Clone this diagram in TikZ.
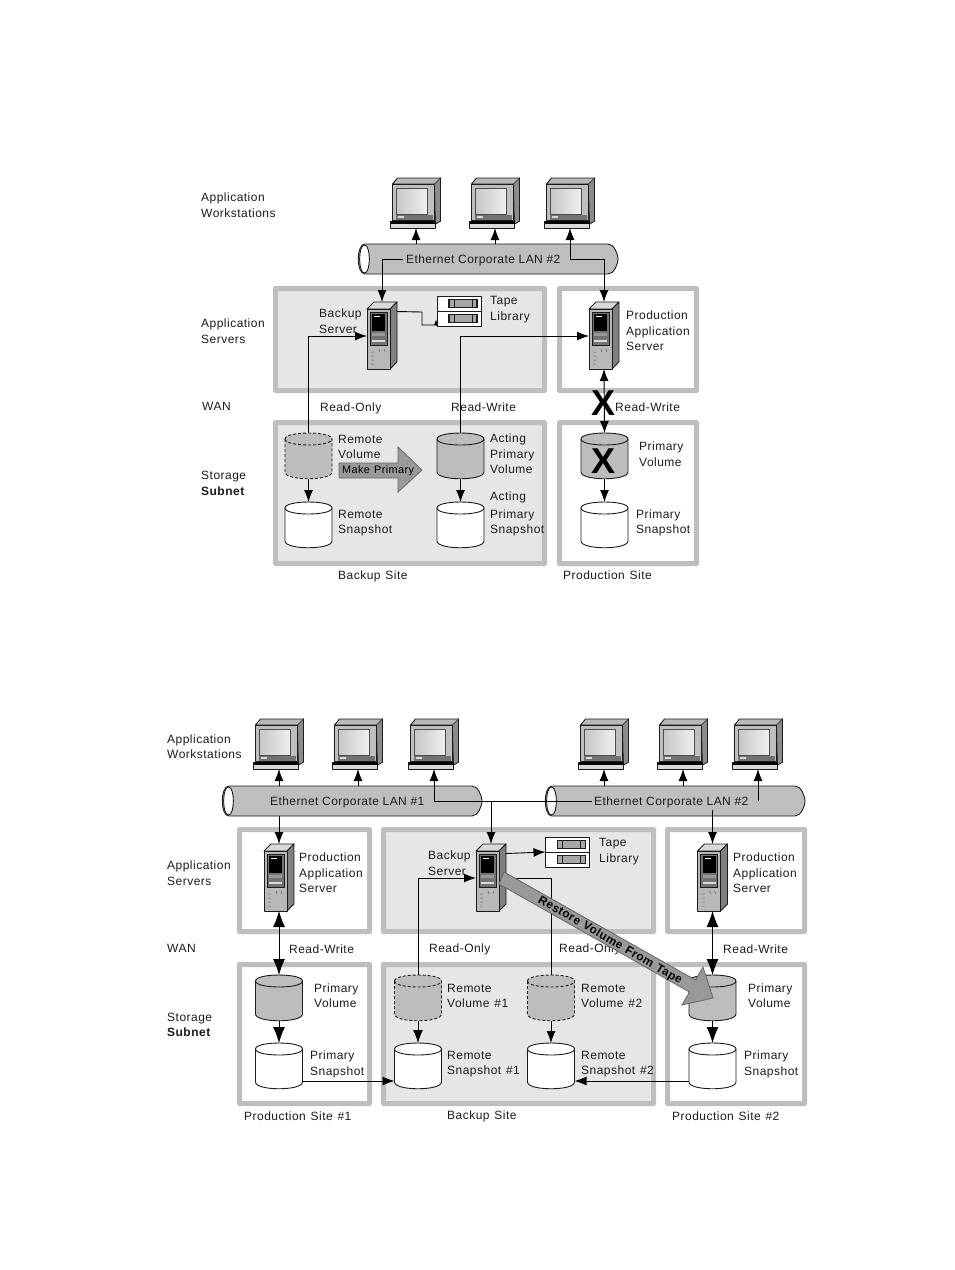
\documentclass[tikz,border=0pt]{standalone}
\usepackage{fontspec}
\setmainfont[LetterSpace=4,WordSpace=1.25]{Liberation Sans}
\newfontfamily\lanfont[LetterSpace=3.5]{Liberation Sans}
\usetikzlibrary{arrows.meta,calc}
\definecolor{ink}{HTML}{1C1C1C}
\definecolor{band}{HTML}{BEBEBE}
\definecolor{sitegray}{HTML}{E6E6E6}
\definecolor{volgray}{HTML}{BDBDBD}
\definecolor{bigarrow}{HTML}{999999}
\tikzset{
  x=1pt,y=-1pt,
  lab/.style={anchor=west,inner sep=0pt,align=left,text=ink,yshift=-0.7pt,font=\fontsize{12}{15.5}\selectfont},
  lanlab/.style={lab,font=\lanfont\fontsize{12}{15.5}\selectfont},
  site/.style={draw=band,line width=5pt,fill=sitegray,rounded corners=0.5pt},
  prod/.style={draw=band,line width=5pt,fill=white,rounded corners=0.5pt},
  conn/.style={draw=black,line width=0.9pt},
  tipa/.style={conn,-{Latex[length=12pt,width=9pt]}},
  tipm/.style={conn,-{Latex[length=13pt,width=10pt]}},
  tipb/.style={conn,-{Latex[length=16pt,width=12pt]}},
  tipbb/.style={conn,{Latex[length=16pt,width=12pt]}-{Latex[length=16pt,width=12pt]}},
  tipab/.style={conn,{Latex[length=12pt,width=9pt]}-{Latex[length=12pt,width=9pt]}},
  crossx/.style={inner sep=0pt,text=black,font=\fontsize{36}{36}\bfseries\selectfont},
  shape line/.style={draw=ink,line width=0.9pt,line join=round},
  bigar/.style={draw=black!60,line width=0.8pt,fill=bigarrow,line join=miter},
  pics/cyl/.style 2 args={code={
    \path[shape line,fill=#1,#2] (0,6) .. controls (0,-2) and (47,-2) .. (47,6) -- (47,39)
       .. controls (47,48) and (0,48) .. (0,39) -- cycle;
    \path[shape line,#2] (0,6) .. controls (0,14) and (47,14) .. (47,6);
    \coordinate (-t) at (23.5,0); \coordinate (-b) at (23.5,46);
    \coordinate (-ls) at (0,38); \coordinate (-rs) at (47,38);
  }},
  pics/monitor/.style={code={
    \path[shape line,fill=black!28] (2,7) -- (7,1) -- (50,1) -- (50,44) -- (45,47) -- (44,7) -- cycle;
    \path[draw=ink,line width=0.6pt,fill=black!45] (44,7) -- (50,1) -- (50,44) -- (45,47) -- cycle;
    \path[shape line,fill=black!25] (2,7) rectangle (44,43);
    \shade[left color=black!22,right color=black!6,draw=black!70,line width=0.8pt] (6,11) rectangle (37,37);
    \path[fill=black!55] (5,38) rectangle (42,43);
    \path[fill=black!15] (7,39) rectangle (13,41);
    \path[shape line,fill=black!15] (0,44) rectangle (45,51);
    \path[fill=black] (0,44) rectangle (45,46.5);
    \coordinate (-b) at (25.5,51);
  }},
  pics/server/.style={code={
    \path[shape line,fill=black!15] (0,7) -- (7,0) -- (30,0) -- (23,7) -- cycle;
    \path[shape line,fill=black!50] (23,7) -- (30,0) -- (30,60) -- (23,67) -- cycle;
    \path[shape line,fill=black!28] (0,7) rectangle (23,67);
    \path[draw=ink,line width=0.7pt,fill=black!55] (3,10) rectangle (20,43);
    \path[fill=black] (5,12) rectangle (18,29);
    \path[fill=white] (7,14) rectangle (13,15);
    \path[fill=black!40] (5,31) rectangle (18,34);
    \path[fill=black!15] (5,38) rectangle (18,40);
    \path[draw=black!60,line width=0.5pt] (4,50) -- (7,50) (4,54) -- (7,54) (4,58) -- (7,58) (4,62) -- (7,62)
      (12,47) -- (13,50) (17,47) -- (18,50);
    \coordinate (-t) at (15,0); \coordinate (-b) at (15,67);
    \coordinate (-l) at (0,34); \coordinate (-r) at (30,34); \coordinate (-ru) at (30,9.5);
  }},
  pics/tape/.style={code={
    \path[shape line,fill=white] (0,0) rectangle (44,30);
    \path[draw=ink,line width=0.9pt] (0,15) -- (44,15);
    \path[draw=ink,line width=1.4pt,fill=black!35] (12,3.5) rectangle (40,11.5);
    \path[draw=ink,line width=1.4pt,fill=black!35] (12,18.5) rectangle (40,26.5);
    \path[draw=ink,line width=0.6pt] (17,3.5) -- (17,11.5) (35,3.5) -- (35,11.5) (17,18.5) -- (17,26.5) (35,18.5) -- (35,26.5);
    \coordinate (-l) at (0,15);
    \coordinate (-bl) at (0,29);
  }},
  pics/pipe/.style={code={
    \path[shape line,fill=band] (7,0) -- (250,0) .. controls (256,0) and (260,10) .. (260,15)
       .. controls (260,20) and (256,30) .. (250,30) -- (7,30)
       .. controls (-2,30) and (-2,0) .. (7,0) -- cycle;
    \path[shape line,fill=white] (6.5,1) .. controls (0,1) and (0,29) .. (6.5,29)
       .. controls (13,29) and (13,1) .. (6.5,1) -- cycle;
    \coordinate (-n) at (0,0); \coordinate (-s) at (0,30);
  }}
}
\begin{document}
\begin{tikzpicture}
\useasboundingbox (0,0) rectangle (954,1270);
\fill[white] (0,0) rectangle (954,1270);

%% ---------- upper figure ----------
\draw[site] (275.5,288.5) rectangle (544.5,390.5);
\draw[prod] (559.5,288.5) rectangle (696.5,390.5);
\draw[site] (275.5,422.5) rectangle (544.5,563.5);
\draw[prod] (559.5,422.5) rectangle (696.5,563.5);

\pic (ap) at (358,244) {pipe};
\pic (am1) at (390.5,177) {monitor};
\pic (am2) at (469.5,177) {monitor};
\pic (am3) at (544.5,177) {monitor};
\pic (as1) at (367,302) {server};
\pic (as2) at (589,302) {server};
\pic (at) at (437,296) {tape};
\pic (arv) at (285,433) {cyl={volgray}{densely dashed}};
\pic (ars) at (285,502) {cyl={white}{solid}};
\pic (aav) at (437,433) {cyl={volgray}{solid}};
\pic (aas) at (437,502) {cyl={white}{solid}};
\pic (apv) at (581,433) {cyl={volgray}{solid}};
\pic (aps) at (581,502) {cyl={white}{solid}};

\node[lanlab] (al1) at (406,260) {Ethernet Corporate LAN \#2};
\coordinate (aj1) at (403,259);
\coordinate (aj2) at (570,259);
\coordinate (aj3) at (422,312);
\coordinate (aj4) at (422,325);
\coordinate (aj5) at (436,325);
\coordinate (aj6) at (436,319);

\draw[tipa] (am1-b |- ap-n) -- (am1-b);
\draw[tipa] (am2-b |- ap-n) -- (am2-b);
\draw[tipa] (aj2) -- (am3-b);
\draw[tipa] (aj1) -| (as1-t);
\draw[tipa] (aj2) -| (as2-t);
\draw[conn] (as1-ru) -- (aj3) -- (aj4) -- (aj5);
\draw[conn,-{Latex[length=6pt,width=4pt]}] (aj5) -- (aj6);
\draw[tipa] (arv-t) |- (as1-l);
\draw[tipa] (aav-t) |- (as2-l);
\draw[tipab] (as2-b) -- (apv-t);
\draw[tipa] (arv-b) -- (ars-t);
\draw[tipa] (aav-b) -- (aas-t);
\draw[tipa] (apv-b) -- (aps-t);

\path[bigar] (339,463) -- (398,463) -- (398,447) -- (422,470) -- (398,492) -- (398,478) -- (339,478) -- cycle;

\node[crossx] (ax1) at (604,403.5) {X};
\node[crossx] (ax2) at (604,461.5) {X};

\node[lab] (a1) at (201,204.5) {Application\\Workstations};
\node[lab] (a2) at (201,330.5) {Application\\Servers};
\node[lab] (a3) at (202,406) {WAN};
\node[lab] (a4) at (201,482.5) {Storage\\\textbf{Subnet}};
\node[lab] (a5) at (319,320.5) {Backup\\Server};
\node[lab] (a6) at (490,309) {Tape\\Library};
\node[lab] (a7) at (626,330.5) {Production\\Application\\Server};
\node[lab] (a8) at (320,408) {Read-Only};
\node[lab] (a9) at (451,407) {Read-Write};
\node[lab] (a10) at (615,407) {Read-Write};
\node[lab] (a11) at (338,446) {Remote\\Volume};
\node[lab] (a12) at (490,453.5) {Acting\\Primary\\Volume};
\node[lab] (a13) at (490,513.5) {Acting\\[2pt]Primary\\Snapshot};
\node[lab] (a14) at (338,522.5) {Remote\\Snapshot};
\node[lab] (a15) at (639,453.5) {Primary\\Volume};
\node[lab] (a16) at (636,522) {Primary\\Snapshot};
\node[lab] (a17) at (338,576) {Backup Site};
\node[lab] (a18) at (563,575) {Production Site};
\node[lab,text=black,font=\fontsize{10.8}{12}\selectfont] (a19) at (342,470) {Make Primary};

%% ---------- lower figure ----------
\draw[prod] (239.5,829.5) rectangle (369.5,931.5);
\draw[site] (383.5,829.5) rectangle (653.5,931.5);
\draw[prod] (667.5,829.5) rectangle (804.5,931.5);
\draw[prod] (239.5,964.5) rectangle (369.5,1103.5);
\draw[site] (383.5,964.5) rectangle (653.5,1103.5);
\draw[prod] (667.5,964.5) rectangle (804.5,1103.5);

\pic (bp1) at (222,786) {pipe};
\pic (bp2) at (545,786) {pipe};
\pic (bm1) at (253.5,718) {monitor};
\pic (bm2) at (332.5,718) {monitor};
\pic (bm3) at (408.5,718) {monitor};
\pic (bm4) at (578.5,718) {monitor};
\pic (bm5) at (657.5,718) {monitor};
\pic (bm6) at (732.5,718) {monitor};
\pic (bs1) at (264,844) {server};
\pic (bs2) at (476,844) {server};
\pic (bs3) at (697.5,844) {server};
\pic (bt) at (545.5,837) {tape};
\pic (bpv1) at (255.5,975) {cyl={volgray}{solid}};
\pic (bps1) at (255.5,1043) {cyl={white}{solid}};
\pic (brv1) at (394.5,975) {cyl={volgray}{densely dashed}};
\pic (brs1) at (394.5,1043) {cyl={white}{solid}};
\pic (brv2) at (527.5,975) {cyl={volgray}{densely dashed}};
\pic (brs2) at (527.5,1043) {cyl={white}{solid}};
\pic (bpv2) at (689,975) {cyl={volgray}{solid}};
\pic (bps2) at (689,1043) {cyl={white}{solid}};

\node[lanlab] (bl1) at (270,802) {Ethernet Corporate LAN \#1};
\node[lanlab] (bl2) at (594,802) {Ethernet Corporate LAN \#2};
\coordinate (bj1) at (434,801.5);
\coordinate (bj2) at (592,801.5);
\coordinate (bj3) at (491,801.5);
\coordinate (bj4) at (758,801);
\coordinate (bj5) at (712.5,810);

\draw[tipa] (bm1-b |- bp1-n) -- (bm1-b);
\draw[tipa] (bm2-b |- bp1-n) -- (bm2-b);
\draw[tipa] (bj1) -- (bm3-b);
\draw[conn] (bj1) -- (bj2);
\draw[tipa] (bj3) -- (bs2-t);
\draw[tipa] (bm4-b |- bp2-n) -- (bm4-b);
\draw[tipa] (bm5-b |- bp2-n) -- (bm5-b);
\draw[tipa] (bj4) -- (bm6-b);
\draw[tipa] (bs1-t |- bp1-s) -- (bs1-t);
\draw[tipa] (bj5) -- (bs3-t);
\draw[tipbb] (bs1-b) -- (bpv1-t);
\draw[tipbb] (bs3-b) -- (bpv2-t);
\draw[tipb] (bpv1-b) -- (bps1-t);
\draw[tipb] (bpv2-b) -- (bps2-t);
\draw[tipm] (brv1-b) -- (brs1-t);
\draw[tipa] (brv2-b) -- (brs2-t);
\draw[tipa] (brv1-t) |- (bs2-l);
\draw[conn] (brv2-t) |- (bs2-r);
\draw[tipa] (bs2-ru) -- (bt-l);
\draw[tipa] (bps1-rs) -- (brs1-ls);
\draw[tipa] (bps2-ls) -- (brs2-rs);

\node[lab] (b1) at (167,746) {Application\\Workstations};
\node[lab] (b2) at (167,872.5) {Application\\Servers};
\node[lab] (b3) at (167,948) {WAN};
\node[lab] (b4) at (167,1024) {Storage\\\textbf{Subnet}};
\node[lab] (b5) at (299,872) {Production\\Application\\Server};
\node[lab] (b6) at (428,862.5) {Backup\\Server};
\node[lab] (b7) at (599,851) {Tape\\Library};
\node[lab] (b8) at (733,872) {Production\\Application\\Server};
\node[lab] (b9) at (289,948) {Read-Write};
\node[lab] (b10) at (429,949) {Read-Only};
\node[lab] (b11) at (559,949) {Read-Only};
\node[lab] (b12) at (723,948) {Read-Write};
\node[lab] (b13) at (314,995) {Primary\\Volume};
\node[lab] (b14) at (447,995) {Remote\\Volume \#1};
\node[lab] (b15) at (581,995) {Remote\\Volume \#2};
\node[lab] (b16) at (748,995) {Primary\\Volume};
\node[lab] (b17) at (310,1063.5) {Primary\\Snapshot};
\node[lab] (b18) at (447,1063.5) {Remote\\Snapshot \#1};
\node[lab] (b19) at (581,1063.5) {Remote\\Snapshot \#2};
\node[lab] (b20) at (744,1063.5) {Primary\\Snapshot};
\node[lab] (b21) at (244,1115) {Production Site \#1};
\node[lab] (b22) at (447,1116) {Backup Site};
\node[lab] (b23) at (672,1115) {Production Site \#2};

\path[bigar] (504,872) -- (695.5,980) -- (703,967) -- (713,998) -- (682,1005) -- (689.5,992) -- (499,884) -- cycle;
\node[lab,anchor=center,yshift=0.7pt,rotate=-30,text=black,font=\fontsize{11.8}{14}\bfseries\selectfont] (b24) at (610,940.5) {Restore Volume From Tape};
\end{tikzpicture}
\end{document}
